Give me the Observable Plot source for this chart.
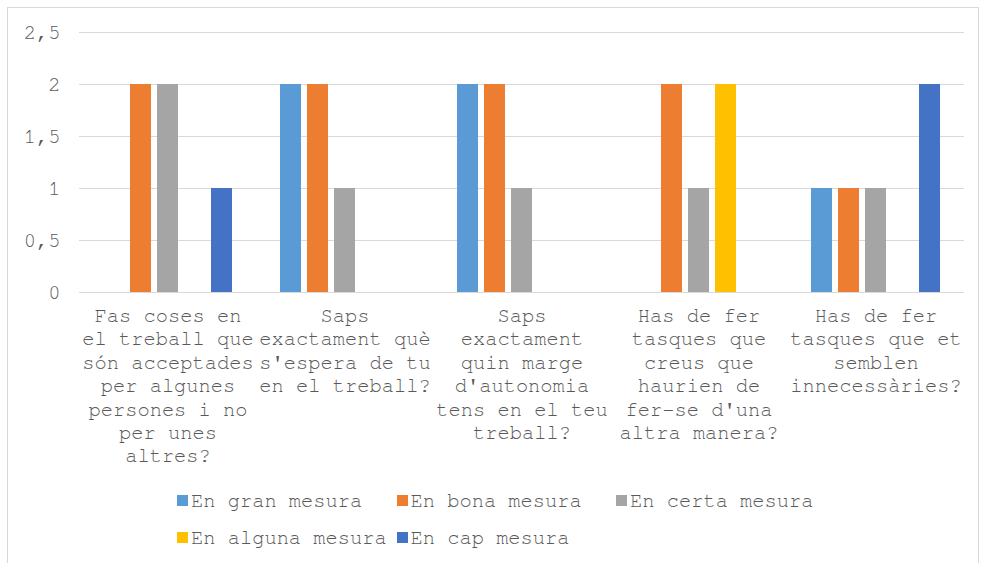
<!DOCTYPE html>
<html>
<head>
<meta charset="utf-8">
<script src="https://cdn.jsdelivr.net/npm/d3@7"></script>
<script src="https://cdn.jsdelivr.net/npm/@observablehq/plot@0.6"></script>
<style>
  html, body { margin: 0; padding: 0; background: #fff; }
  #wrap { position: relative; width: 982px; height: 563px; overflow: hidden; font-family: "FreeMono", "Liberation Mono", monospace; color: #595959; }
  #frame { position: absolute; left: 7px; top: 7px; width: 972px; height: 560px; border: 1px solid #d9d9d9; box-sizing: border-box; }
  #chart { position: absolute; left: 0; top: 0; }
  #legend { position: absolute; left: 177px; top: 482px; display: grid; grid-template-columns: repeat(3, 219.5px); grid-auto-rows: 37px; font-size: 20.4px; }
  .item { display: flex; align-items: center; white-space: nowrap; }
  .sw { width: 11px; height: 11px; margin-right: 3px; flex: none; }
</style>
</head>
<body>
<div id="wrap">
  <div id="frame"></div>
  <div id="chart"></div>
  <div id="legend"></div>
</div>
<script>
const categories = [
  "Fas coses en el treball que són acceptades per algunes persones i no per unes altres?",
  "Saps exactament què s'espera de tu en el treball?",
  "Saps exactament quin marge d'autonomia tens en el teu treball?",
  "Has de fer tasques que creus que haurien de fer-se d'una altra manera?",
  "Has de fer tasques que et semblen innecessàries?"
];
const categoryLabelLines = [
  ["Fas coses en", "el treball que", "són acceptades", "per algunes", "persones i no", "per unes", "altres?"],
  ["Saps", "exactament què", "s'espera de tu", "en el treball?"],
  ["Saps", "exactament", "quin marge", "d'autonomia", "tens en el teu", "treball?"],
  ["Has de fer", "tasques que", "creus que", "haurien de", "fer-se d'una", "altra manera?"],
  ["Has de fer", "tasques que et", "semblen", "innecessàries?"]
];
const series = ["En gran mesura", "En bona mesura", "En certa mesura", "En alguna mesura", "En cap mesura"];
const seriesColors = ["#5B9BD5", "#ED7D31", "#A5A5A5", "#FFC000", "#4472C4"];
const enGranMesura   = [0, 2, 2, 0, 1];
const enBonaMesura   = [2, 2, 2, 2, 1];
const enCertaMesura  = [2, 1, 1, 1, 1];
const enAlgunaMesura = [0, 0, 0, 2, 0];
const enCapMesura    = [1, 0, 0, 0, 2];
const yTicks = [0, 0.5, 1, 1.5, 2, 2.5];

const seriesValues = [enGranMesura, enBonaMesura, enCertaMesura, enAlgunaMesura, enCapMesura];
const data = [];
categories.forEach((c, i) => {
  series.forEach((s, j) => {
    data.push({category: c, series: s, value: seriesValues[j][i]});
  });
});

const labelOf = new Map(categories.map((c, i) => [c, categoryLabelLines[i].join("\n")]));

const chart = Plot.plot({
  width: 982,
  height: 470,
  marginLeft: 77,
  marginRight: 17,
  marginTop: 32,
  marginBottom: 178,
  style: {fontFamily: "FreeMono, 'Liberation Mono', monospace", fontSize: "20.4px", color: "#595959", background: "transparent"},
  fx: {domain: categories, padding: 0},
  x: {domain: series, paddingInner: 0.22, paddingOuter: 0.875, axis: null},
  y: {domain: [0, 2.5]},
  color: {domain: series, range: seriesColors},
  marks: [
    Plot.gridY(yTicks, {stroke: "#d9d9d9", strokeOpacity: 1, strokeWidth: 1}),
    Plot.barY(data.filter(d => d.value > 0), {fx: "category", x: "series", y: "value", fill: "series"}),
    Plot.axisY(yTicks, {tickSize: 0, tickPadding: 19, tickFormat: d => String(d).replace(".", ","), fontSize: 20.4, label: null}),
    Plot.axisFx({anchor: "bottom", tickSize: 0, tickPadding: 13, tickFormat: d => labelOf.get(d), fontSize: 20.4, lineHeight: 1.145, label: null})
  ]
});
document.getElementById("chart").appendChild(chart);

const legend = document.getElementById("legend");
series.forEach((s, i) => {
  const item = document.createElement("div");
  item.className = "item";
  const sw = document.createElement("span");
  sw.className = "sw";
  sw.style.background = seriesColors[i];
  const t = document.createElement("span");
  t.textContent = s;
  item.appendChild(sw);
  item.appendChild(t);
  legend.appendChild(item);
});
</script>
</body>
</html>
